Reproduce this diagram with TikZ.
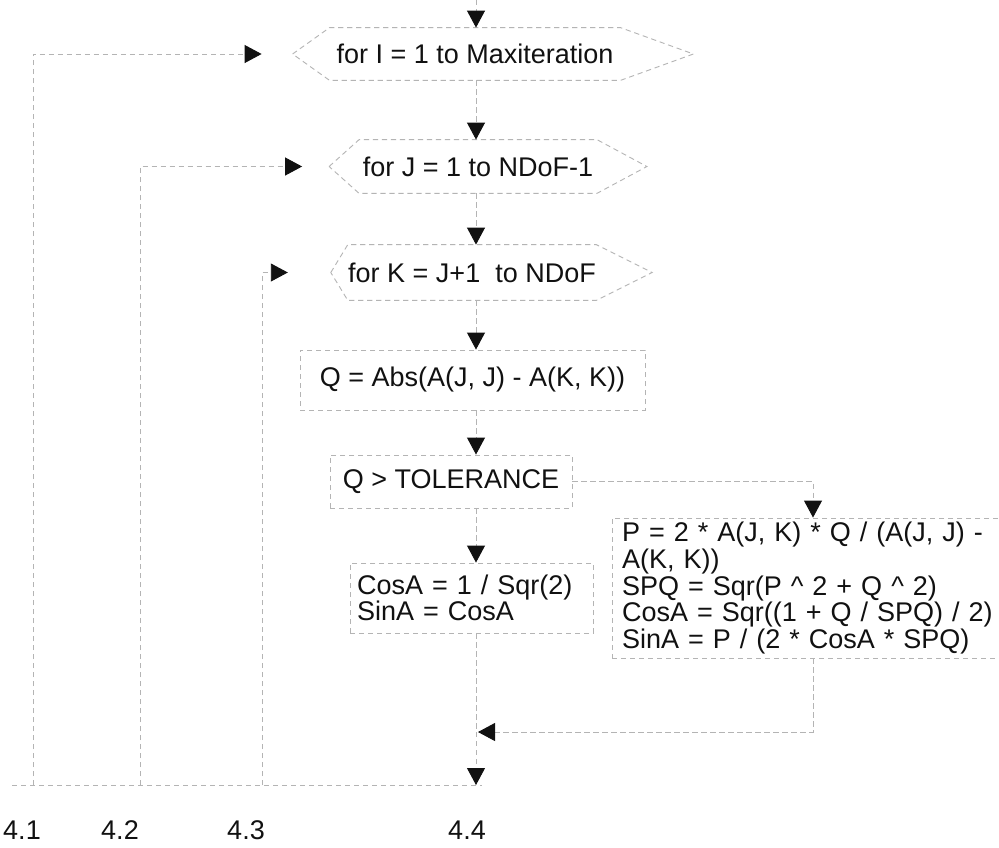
\documentclass[tikz,border=0pt]{standalone}
\usepackage{fontspec}
\setmainfont{Liberation Sans}
\usetikzlibrary{arrows.meta,calc}
\definecolor{Faint}{HTML}{B4B4B4}
\definecolor{Ink}{HTML}{111111}
\newcommand{\tightlines}{\lineskiplimit=-20pt\relax}
\tikzset{
  outline/.style={draw=Faint,line width=0.45pt,dash pattern=on 2.6pt off 1.9pt},
  txt/.style={font={\fontsize{13.5}{12.3}\selectfont\tightlines},text=Ink,inner sep=0pt},
  loopbox/.style={txt},
  stepbox/.style={txt,outline},
  flow/.style={outline,-{Triangle[width=9pt,length=8.5pt,color=Ink]}},
}
% hexagon round a loop head: node, reach left, reach right
\newcommand{\hexloop}[3]{%
  \coordinate (#1-w) at ($(#1.west)+(-#2,0)$);
  \coordinate (#1-e) at ($(#1.east)+(#3,0)$);
  \draw[outline] (#1-w) -- (#1.north west) -- (#1.north east) -- (#1-e)
    -- (#1.south east) -- (#1.south west) -- cycle;
}

\begin{document}
\begin{tikzpicture}[x=0.5pt,y=-0.5pt]
      \fill[white] (0,0) rectangle (999,847);
      \useasboundingbox (0,0) rectangle (999,847);
      \coordinate (col) at (476,0);
      \coordinate (rotIn) at (813,0);

      % loop heads
      \node[loopbox,minimum width=145pt,minimum height=26pt] (loopI) at (475,54) {for I = 1 to Maxiteration};
      \node[loopbox,minimum width=118.5pt,minimum height=26.5pt] (loopJ) at (478,166.5) {for J = 1 to NDoF-1};
      \node[loopbox,minimum width=113.5pt,minimum height=27.5pt] (loopK) at (472,272.5) {for K = J+1\ \ to NDoF};
      \hexloop{loopI}{37}{73}
      \hexloop{loopJ}{30}{50}
      \hexloop{loopK}{17}{56}

      % steps
      \node[stepbox,minimum width=172.5pt,minimum height=30pt] (calcQ) at (472.5,380) {Q = Abs(A(J, J) - A(K, K))};
      \node[stepbox,minimum width=121pt,minimum height=26.5pt] (testQ) at (451,481.5) {Q > TOLERANCE};
      \node[stepbox,text width=114.5pt,inner xsep=3.5pt,minimum height=35pt,align=left] (sameA) at (471.5,598)
        {CosA = 1 / Sqr(2)\\[1pt]SinA = CosA};
      \node[stepbox,text width=186.5pt,inner xsep=5pt,minimum height=70pt,align=left] (rotA) at (808.5,588)
        {P = 2 * A(J, K) * Q / (A(J, J) -\\[1pt]A(K, K))\\[1pt]SPQ = Sqr(P \^{} 2 + Q \^{} 2)\\[1pt]CosA = Sqr((1 + Q / SPQ) / 2)\\[1pt]SinA = P / (2 * CosA * SPQ)};

      % main column
      \coordinate (start) at (476,0);
      \draw[flow] (start) -- (start |- loopI.north);
      \draw[flow] (loopI.south -| col) -- (loopJ.north -| col);
      \draw[flow] (loopJ.south -| col) -- (loopK.north -| col);
      \draw[flow] (loopK.south -| col) -- (calcQ.north -| col);
      \draw[flow] (calcQ.south -| col) -- (testQ.north -| col);
      \draw[flow] (testQ.south -| col) -- (sameA.north -| col);
      \draw[flow] (testQ.east) -- (testQ.east -| rotIn) -- (rotA.north -| rotIn);

      % merge
      \coordinate (merge) at (478,732);
      \coordinate (endL) at (12,785);
      \draw[outline] (sameA.south -| col) -- (merge -| col);
      \draw[flow] (rotA.south -| rotIn) -- (rotIn |- merge) -- (merge);
      \draw[flow] (merge -| col) -- (col |- endL);
      \draw[outline] (endL) -- ($(col |- endL)+(6,0)$);

      % loop returns
      \coordinate (backI) at (33,785);
      \coordinate (backJ) at (140,785);
      \coordinate (backK) at (262,785);
      \draw[flow,shorten >=15.5pt] (backI) -- (backI |- loopI-w) -- (loopI-w);
      \draw[flow,shorten >=13.5pt] (backJ) -- (backJ |- loopJ-w) -- (loopJ-w);
      \draw[flow,shorten >=21.5pt] (backK) -- (backK |- loopK-w) -- (loopK-w);

      \node[txt] (lab41) at (22,830) {4.1};
      \node[txt] (lab42) at (120,830) {4.2};
      \node[txt] (lab43) at (246,830) {4.3};
      \node[txt] (lab44) at (467,830) {4.4};
    \end{tikzpicture}
\end{document}
